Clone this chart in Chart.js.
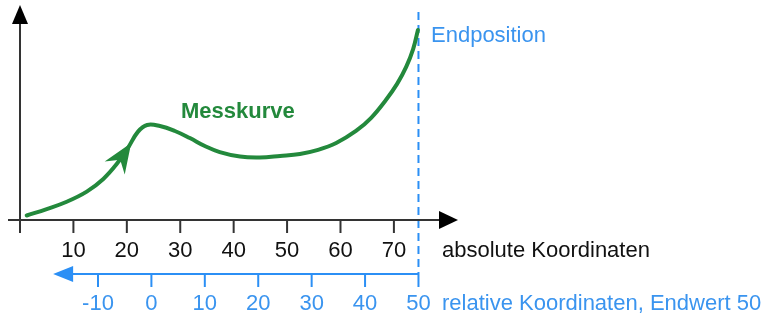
<!DOCTYPE html>
<html>
<head>
<meta charset="utf-8">
<script src="https://cdn.jsdelivr.net/npm/chart.js@4"></script>
<style>
html,body{margin:0;padding:0;background:#fff}
#wrap{width:779px;height:320px}
</style>
</head>
<body>
<div id="wrap"><canvas id="chart"></canvas></div>
<script>
// === Messkurve (absolute Koordinaten) ===
const messX=[1.25,5.0,8.75,12.5,15.6,18.1,20.2,22.1,23.8,26.2,29.0,31.8,34.6,37.4,41.2,44.9,48.7,52.4,55.8,59.2,62.9,65.7,68.5,70.6,72.3,73.6,74.5];
const messY=[2.1,5.1,8.5,13.2,19.1,26.0,33.5,41.1,44.2,43.7,41.4,38.1,34.4,31.6,29.5,29.1,29.8,30.7,32.6,35.8,41.4,47.4,55.8,63.3,71.2,79.5,88.4];

// === Achsen ===
const absTicks=[10,20,30,40,50,60,70];
const relTicks=[-10,0,10,20,30,40,50];
const endAbs=74.6;      // Endposition in absoluten Koordinaten
const relShift=24.6;    // relativ 0 = absolut 24.6
const relArrowEnd=-18.4;
const arrowIdx=6;       // Pfeil auf der Kurve

const GREEN='#23893c', BLUE='#2b8ff5', BLUE_TXT='#3a94ef', AXIS='#333';
const FONT='"Liberation Sans", Arial, sans-serif';

function tri(ctx,x,y,ang,len,half){
  ctx.save();ctx.translate(x,y);ctx.rotate(ang);
  ctx.beginPath();ctx.moveTo(0,0);ctx.lineTo(-len,-half);ctx.lineTo(-len,half);ctx.closePath();ctx.fill();
  ctx.restore();
}

const axesPlugin={
  id:'axes',
  beforeDatasetsDraw(chart){
    const {ctx,chartArea:a,scales:{x,y}}=chart;
    const y0=y.getPixelForValue(0), x0=x.getPixelForValue(0);
    ctx.save();
    // gestrichelte Endposition
    const xe=x.getPixelForValue(endAbs);
    ctx.strokeStyle=BLUE;ctx.lineWidth=2;ctx.setLineDash([8,5]);
    ctx.beginPath();ctx.moveTo(xe,12);ctx.lineTo(xe,274);ctx.stroke();
    ctx.setLineDash([]);
    // x-Achse
    ctx.strokeStyle=AXIS;ctx.fillStyle='#000';ctx.lineWidth=2;
    ctx.beginPath();ctx.moveTo(a.left-12,y0);ctx.lineTo(a.right-14,y0);ctx.stroke();
    tri(ctx,a.right,y0,0,19,9);
    // y-Achse
    ctx.beginPath();ctx.moveTo(x0,y0+13);ctx.lineTo(x0,a.top+16);ctx.stroke();
    tri(ctx,x0,a.top,-Math.PI/2,19,8);
    // absolute Ticks
    ctx.font='22px '+FONT;ctx.textAlign='center';ctx.textBaseline='alphabetic';ctx.fillStyle='#111';
    absTicks.forEach(v=>{
      const px=x.getPixelForValue(v);
      ctx.beginPath();ctx.moveTo(px,y0);ctx.lineTo(px,y0+13);ctx.stroke();
      ctx.fillText(String(v),px,256.5);
    });
    ctx.textAlign='left';
    ctx.fillText('absolute Koordinaten',442,256.5);
    // relative Achse
    const ry=274;
    const rl=x.getPixelForValue(relArrowEnd+relShift), rr=x.getPixelForValue(50+relShift);
    ctx.strokeStyle=BLUE;ctx.fillStyle=BLUE;ctx.lineWidth=2;
    ctx.beginPath();ctx.moveTo(rl+14,ry);ctx.lineTo(rr,ry);ctx.stroke();
    tri(ctx,rl,ry,Math.PI,20,8);
    ctx.fillStyle=BLUE_TXT;ctx.textAlign='center';
    relTicks.forEach(v=>{
      const px=x.getPixelForValue(v+relShift);
      ctx.beginPath();ctx.moveTo(px,ry);ctx.lineTo(px,ry+13);ctx.stroke();
      ctx.fillText(String(v),px,310);
    });
    ctx.textAlign='left';
    ctx.fillText('relative Koordinaten, Endwert 50',442,310);
    ctx.fillText('Endposition',431,42);
    ctx.restore();
  },
  afterDatasetsDraw(chart){
    const {ctx}=chart;
    const p=chart.getDatasetMeta(0).data[arrowIdx];
    const ang=Math.atan2(p.cp2y-p.cp1y,p.cp2x-p.cp1x);
    const tx=p.x+Math.cos(ang)*6, ty=p.y+Math.sin(ang)*6;
    ctx.save();
    ctx.fillStyle=GREEN;
    ctx.translate(tx,ty);ctx.rotate(ang);
    ctx.beginPath();ctx.moveTo(0,0);ctx.lineTo(-30,-12);ctx.lineTo(-20,0);ctx.lineTo(-30,12);ctx.closePath();ctx.fill();
    ctx.restore();
    ctx.save();
    ctx.fillStyle=GREEN;ctx.font='bold 22px '+FONT;ctx.textBaseline='alphabetic';
    ctx.fillText('Messkurve',181,118);
    ctx.restore();
  }
};

new Chart(document.getElementById('chart'),{
  type:'line',
  data:{datasets:[{
    data:messX.map((v,i)=>({x:v,y:messY[i]})),
    borderColor:GREEN,borderWidth:4,pointRadius:0,fill:false,
    tension:0.4,borderCapStyle:'round',borderJoinStyle:'round'
  }]},
  options:{
    responsive:true,maintainAspectRatio:false,animation:false,
    layout:{padding:{left:20,right:321,top:5,bottom:100}},
    plugins:{legend:{display:false},tooltip:{enabled:false}},
    scales:{
      x:{type:'linear',min:0,max:82,display:false},
      y:{min:0,max:100,display:false}
    }
  },
  plugins:[axesPlugin]
});
</script>
</body>
</html>
